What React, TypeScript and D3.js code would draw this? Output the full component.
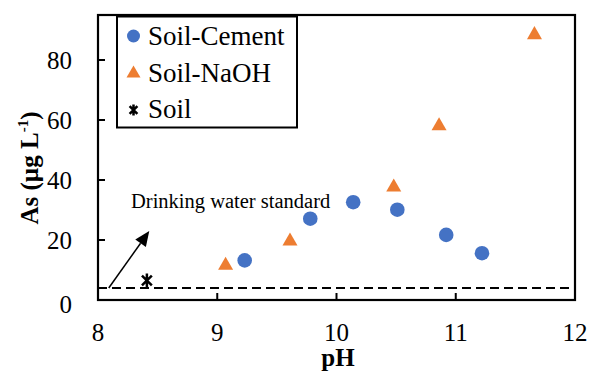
import React from "react";
import * as d3 from "d3";

// pH vs dissolved arsenic
const cementPH = [9.23, 9.78, 10.14, 10.51, 10.92, 11.22];
const cementAs = [13.2, 27.1, 32.6, 30.1, 21.7, 15.6];
const naohPH = [9.07, 9.61, 10.48, 10.86, 11.66];
const naohAs = [11.5, 19.6, 37.6, 58.0, 88.4];
const soilPH = [8.41];
const soilAs = [6.5];
const standardAs = 4;
const xTicks = [8, 9, 10, 11, 12];
const yTicks = [0, 20, 40, 60, 80];
const legendLabels = ["Soil-Cement", "Soil-NaOH", "Soil"];
// arrow annotation endpoints in data units
const arrowFrom = [8.09, 4.0];
const arrowTo = [8.43, 23.0];

const W = 599;
const H = 376;
const left = 98;
const right = 575;
const top = 15;
const bottom = 300;
const BLUE = "#4472C4";
const ORANGE = "#ED7D31";
const serif = { fontFamily: "Liberation Serif" };

const x = d3.scaleLinear().domain([8, 12]).range([left, right]);
const y = d3.scaleLinear().domain([0, 95]).range([bottom, top]);

const triPath = (cx: number, cy: number, s = 15) => {
  const h = s * 0.87;
  return `M${cx},${cy - (h * 2) / 3}L${cx + s / 2},${cy + h / 3}L${cx - s / 2},${cy + h / 3}Z`;
};

// asterisk marker: an X crossed by a vertical bar
const Star = ({ cx, cy, r = 7 }: { cx: number; cy: number; r?: number }) => {
  const d = [90, 45, 135].map((a) => {
    const rad = (a * Math.PI) / 180;
    const dx = r * Math.cos(rad);
    const dy = r * Math.sin(rad);
    return `M${cx - dx},${cy - dy}L${cx + dx},${cy + dy}`;
  });
  return <path d={d.join("")} stroke="#000" strokeWidth={2.5} fill="none" />;
};

export default function App() {
  const ax0 = x(arrowFrom[0]);
  const ay0 = y(arrowFrom[1]);
  const ax1 = x(arrowTo[0]);
  const ay1 = y(arrowTo[1]);
  const ang = Math.atan2(ay1 - ay0, ax1 - ax0);
  const headLen = 15;
  const headW = 6.5;
  const bx = ax1 - headLen * Math.cos(ang);
  const by = ay1 - headLen * Math.sin(ang);
  const px = -Math.sin(ang) * headW;
  const py = Math.cos(ang) * headW;

  return (
    <svg width={W} height={H} style={{ position: "absolute", left: 0, top: 0, background: "#fff" }}>
      {/* drinking water standard line */}
      <line
        x1={left}
        x2={right}
        y1={y(standardAs)}
        y2={y(standardAs)}
        stroke="#000"
        strokeWidth={2}
        strokeDasharray="9 5"
      />

      {/* ticks */}
      {xTicks.slice(1, -1).map((t) => (
        <line key={t} x1={x(t)} x2={x(t)} y1={bottom} y2={bottom - 7} stroke="#000" strokeWidth={2} />
      ))}
      {yTicks.slice(1).map((t) => (
        <line key={t} x1={left} x2={left + 7} y1={y(t)} y2={y(t)} stroke="#000" strokeWidth={2} />
      ))}

      {/* tick labels */}
      {xTicks.map((t) => (
        <text key={t} x={x(t)} y={341} textAnchor="middle" fontSize={25} fill="#000" style={serif}>
          {t}
        </text>
      ))}
      {yTicks.map((t) => (
        <text
          key={t}
          x={72}
          y={y(t) + (t === 0 ? 13 : 8.5)}
          textAnchor="end"
          fontSize={25}
          fill="#000"
          style={serif}
        >
          {t}
        </text>
      ))}

      {/* axis titles */}
      <text x={338} y={366} textAnchor="middle" fontSize={25} fontWeight="bold" fill="#000" style={serif}>
        pH
      </text>
      <text
        transform={`translate(38,168) rotate(-90)`}
        textAnchor="middle"
        fontSize={25}
        fontWeight="bold"
        fill="#000"
        style={serif}
      >
        As (µg L<tspan fontSize={15} dy={-10}>-1</tspan>
        <tspan dy={10}>)</tspan>
      </text>

      {/* annotation */}
      <text x={131} y={208} fontSize={20.5} fill="#000" style={serif}>
        Drinking water standard
      </text>
      <line x1={ax0} y1={ay0} x2={bx} y2={by} stroke="#000" strokeWidth={1.5} />
      <path d={`M${ax1},${ay1}L${bx + px},${by + py}L${bx - px},${by - py}Z`} fill="#000" />

      {/* data */}
      {naohPH.map((p, i) => (
        <path key={`n${i}`} d={triPath(x(p), y(naohAs[i]))} fill={ORANGE} />
      ))}
      {cementPH.map((p, i) => (
        <circle key={`c${i}`} cx={x(p)} cy={y(cementAs[i])} r={7.3} fill={BLUE} />
      ))}
      {soilPH.map((p, i) => (
        <Star key={`s${i}`} cx={x(p)} cy={y(soilAs[i])} />
      ))}

      {/* legend */}
      <rect x={117} y={16.5} width={180} height={111} fill="#fff" stroke="#000" strokeWidth={2} />
      <circle cx={133.5} cy={36} r={6.5} fill={BLUE} />
      <path d={triPath(133.5, 73.5, 14)} fill={ORANGE} />
      <Star cx={133.5} cy={110} r={5.5} />
      {legendLabels.map((l, i) => (
        <text key={l} x={148} y={45 + i * 36.5} fontSize={27} fill="#000" style={serif}>
          {l}
        </text>
      ))}

      {/* frame */}
      <rect x={left} y={top} width={right - left} height={bottom - top} fill="none" stroke="#000" strokeWidth={2.2} />
    </svg>
  );
}
